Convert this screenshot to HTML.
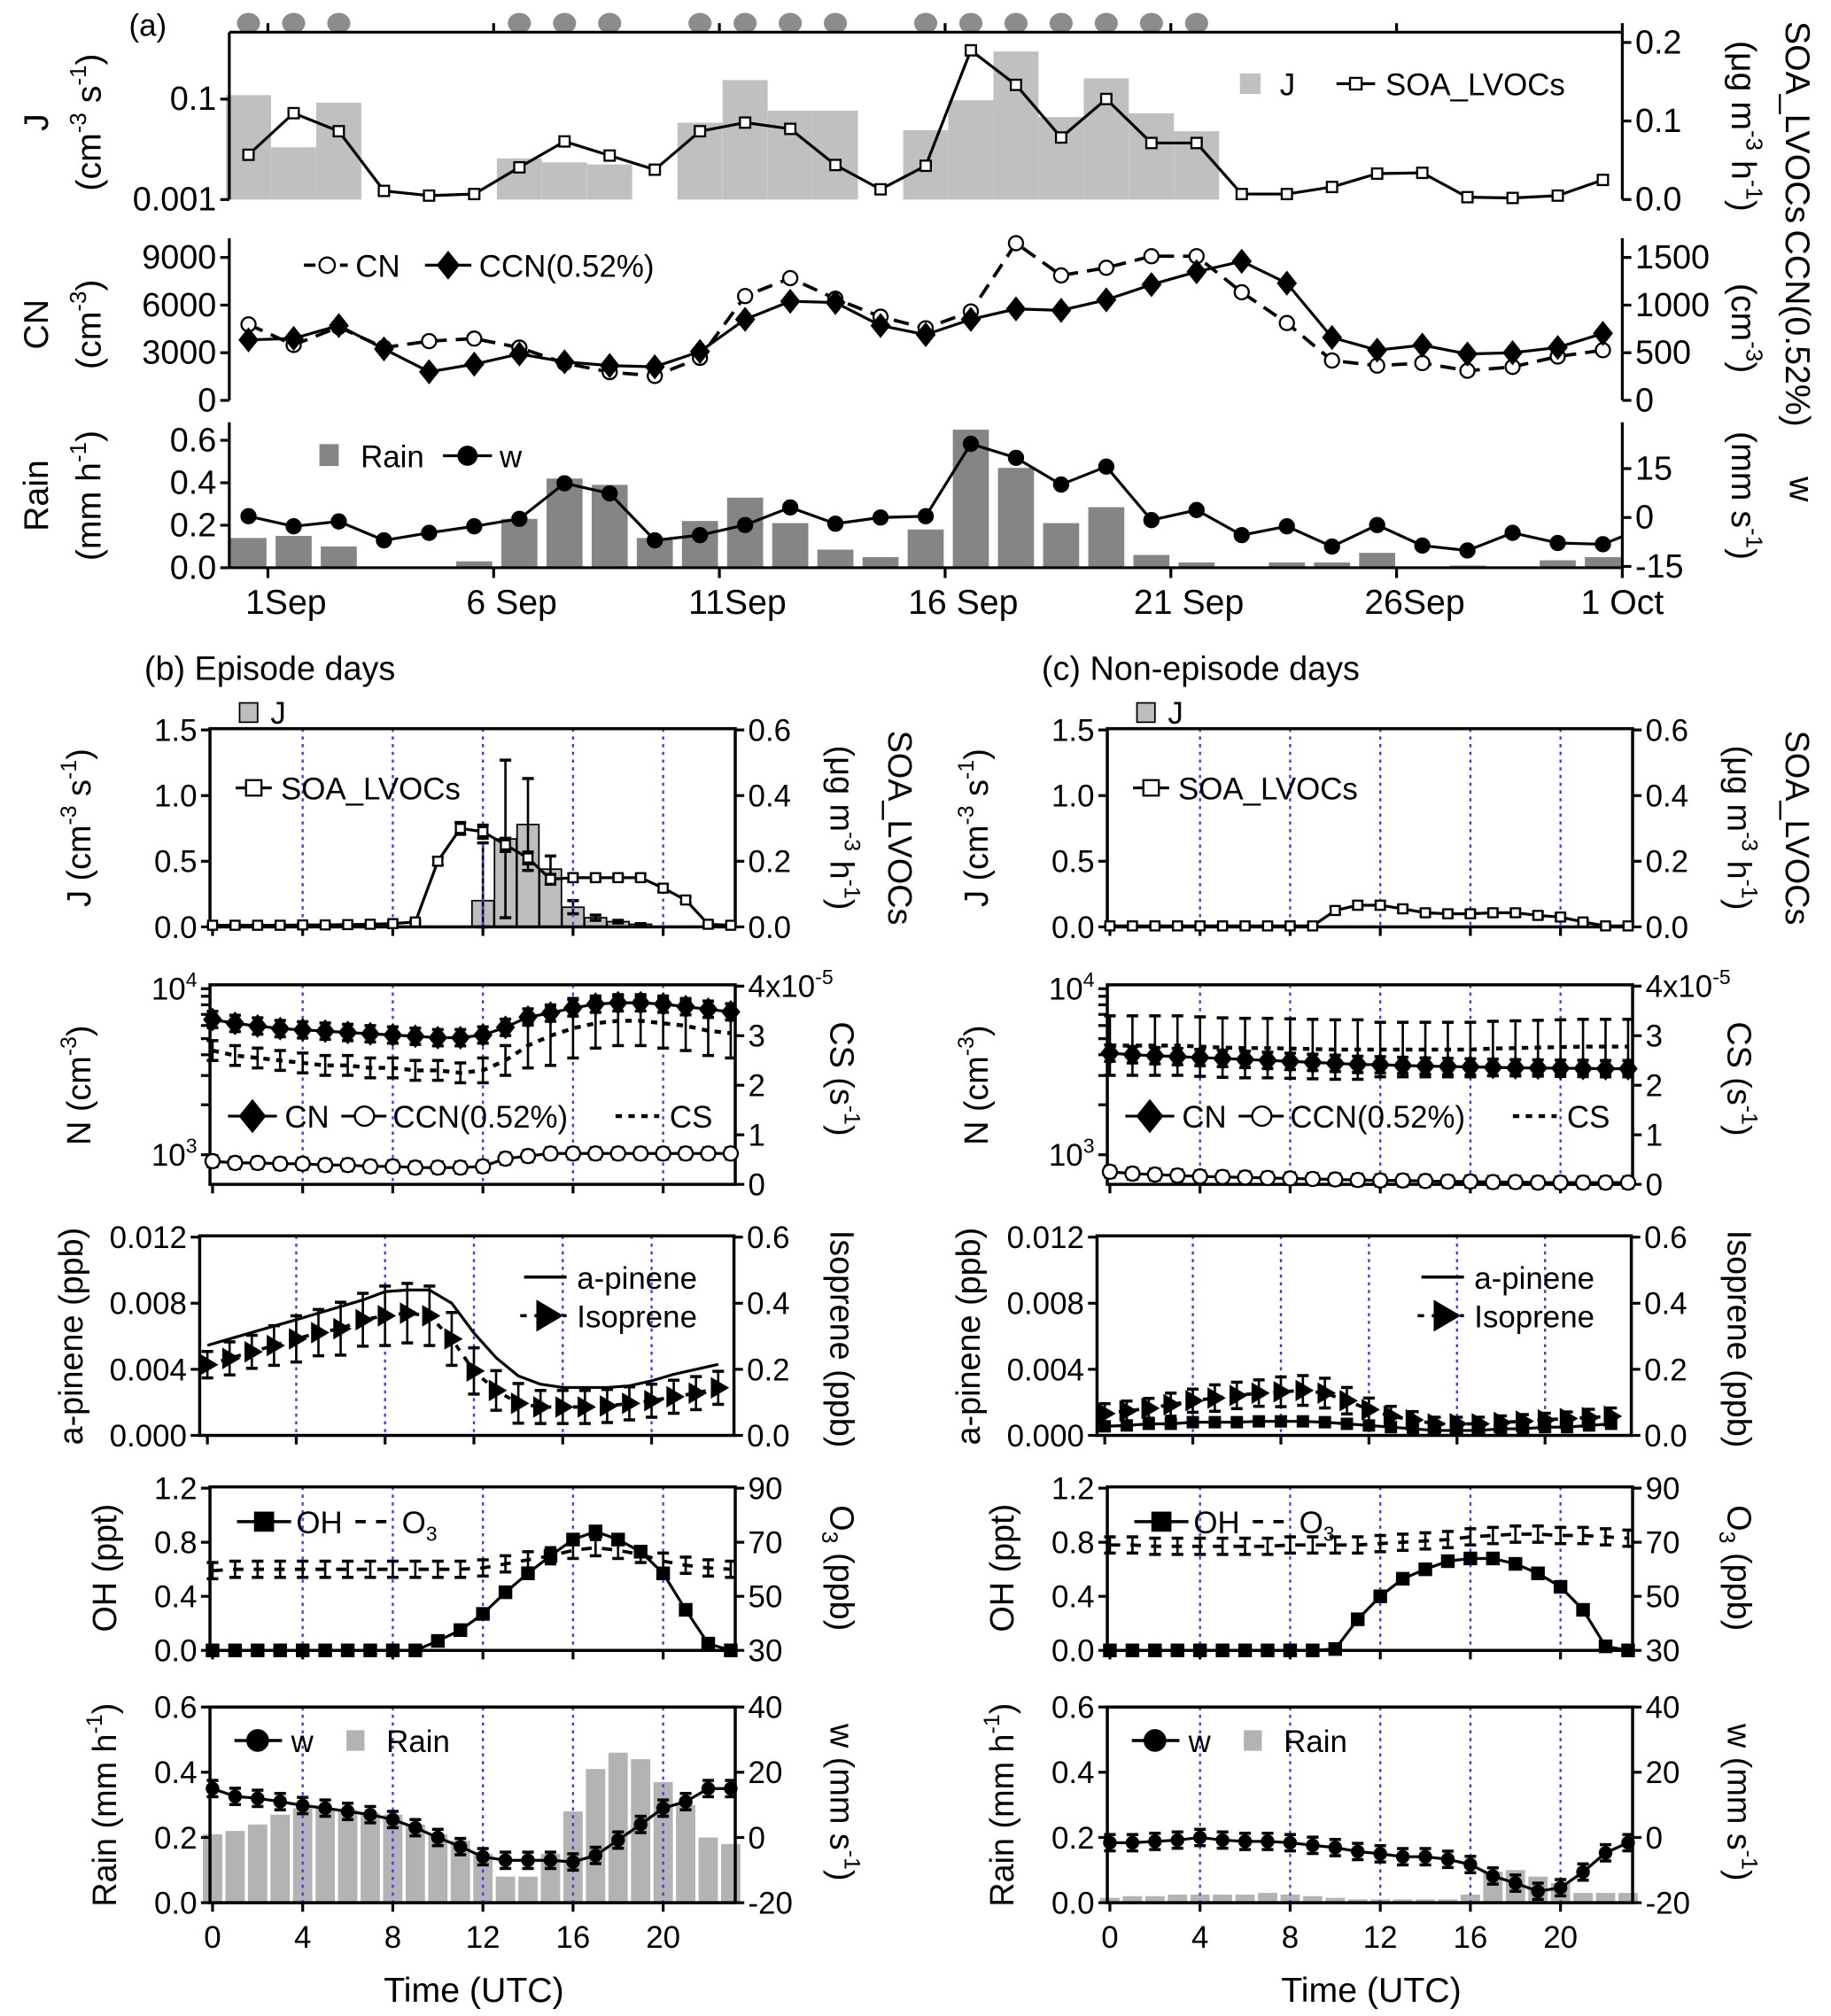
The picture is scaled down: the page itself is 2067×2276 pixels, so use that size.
<!DOCTYPE html>
<html><head><meta charset="utf-8">
<style>
html,body{margin:0;padding:0;background:#fff}
svg{display:block}
text{font-family:"Liberation Sans",Arial,sans-serif;fill:#000}
</style></head>
<body>
<svg id="fig" xmlns="http://www.w3.org/2000/svg" width="2067" height="2276" viewBox="0 0 1422 1566"></svg>
<script>
// ===== Panel (a) data (daily, 1 Sep .. 1 Oct) =====
const aJ   = [0.12,0.011,0.085,0,0,0,0.0066,0.0055,0.005,0,0.034,0.24,0.059,0.059,0,0.024,0.095,0.89,0.044,0.26,0.052,0.023,0,0,0,0,0,0,0,0,0];
const aSOA = [0.057,0.11,0.087,0.011,0.005,0.007,0.041,0.074,0.056,0.038,0.087,0.098,0.09,0.044,0.013,0.043,0.19,0.146,0.079,0.128,0.072,0.072,0.007,0.007,0.016,0.033,0.034,0.003,0.002,0.005,0.025];
const aCN  = [4785,3490,4620,3325,3730,3890,3325,2350,1780,1540,2680,6570,7700,6400,5270,4540,5600,9900,7870,8350,9080,9080,6810,4870,2510,2190,2350,1865,2110,2760,3160];
const aCCN = [635,650,785,540,300,380,487,405,365,352,513,850,1040,1027,785,690,850,960,945,1055,1215,1350,1460,1230,660,527,580,487,500,555,703];
const aRain= [0.14,0.15,0.10,0,0,0.03,0.23,0.42,0.39,0.14,0.22,0.33,0.21,0.085,0.05,0.18,0.65,0.47,0.21,0.285,0.06,0.025,0,0.025,0.025,0.07,0,0.01,0,0.035,0.05];
const aW   = [0.4,-2.7,-1.2,-7,-4.7,-2.7,-0.4,10.5,7.4,-7,-5.4,-2.3,3.1,-1.9,0,0.4,22.6,18.3,10.1,15.6,-0.8,2.3,-5.4,-2.7,-8.9,-2.3,-8.6,-10.1,-4.7,-7.8,-8.2];
const episodeDays = [0,1,2,6,7,8,10,11,12,13,15,16,17,18,19,20,21];
const aDateTicks  = [0,5,10,15,20,25,30];
const aDateLabels = ["1Sep","6 Sep","11Sep","16 Sep","21 Sep","26Sep","1 Oct"];
const aJTicks = [0.001,0.1];
const aJTickLabels = ["0.001","0.1"];
const aSOATicks = [0,0.1,0.2];
const aSOATickLabels = ["0.0","0.1","0.2"];
const aCNTicks = [0,3000,6000,9000];
const aCCNTicks = [0,500,1000,1500];
const aRainTicks = [0,0.2,0.4,0.6];
const aRainTickLabels = ["0.0","0.2","0.4","0.6"];
const aWTicks = [-15,0,15];

// ===== Panels (b) and (c) data (hourly) =====
const hours = [0,1,2,3,4,5,6,7,8,9,10,11,12,13,14,15,16,17,18,19,20,21,22,23];
const hourTicks = [0,4,8,12,16,20];
const bJ = [0,0,0,0,0,0,0,0,0,0,0,0,0.2,0.67,0.78,0.44,0.15,0.07,0.04,0.02,0,0,0,0];
const bJerr = [0,0,0,0,0,0,0,0,0,0,0,0,0.44,0.6,0.35,0.1,0.05,0.02,0.01,0.005,0,0,0,0];
const bSOA = [0.005,0.005,0.005,0.005,0.006,0.006,0.007,0.008,0.01,0.015,0.2,0.3,0.29,0.25,0.21,0.145,0.15,0.15,0.15,0.15,0.118,0.082,0.008,0.005];
const bSOAerr = [0.002,0.002,0.002,0.002,0.002,0.002,0.002,0.002,0.003,0.004,0.012,0.018,0.02,0.02,0.018,0.015,0.012,0.01,0.01,0.01,0.01,0.008,0.003,0.002];
const cJ = [0,0,0,0,0,0,0,0,0,0,0,0,0,0,0,0,0,0,0,0,0,0,0,0];
const cSOA = [0.003,0.003,0.003,0.003,0.003,0.003,0.003,0.003,0.003,0.003,0.05,0.066,0.066,0.055,0.043,0.04,0.04,0.043,0.043,0.035,0.03,0.015,0.003,0.003];
const cSOAerr = [0.002,0.002,0.002,0.002,0.002,0.002,0.002,0.002,0.002,0.002,0.01,0.012,0.012,0.01,0.01,0.01,0.01,0.01,0.01,0.01,0.01,0.006,0.002,0.002];

const bCN = [6520,6180,5960,5750,5650,5550,5450,5350,5260,5170,5070,5070,5260,5850,6750,7130,7660,8070,8220,8220,8070,7790,7520,7250];
const bCCN = [915,893,893,883,883,867,867,851,851,837,837,837,851,948,982,1018,1018,1018,1018,1018,1018,1018,1018,1018];
const bCS = [2.7,2.6,2.55,2.5,2.45,2.4,2.4,2.35,2.35,2.3,2.3,2.25,2.3,2.5,2.8,3.0,3.15,3.25,3.3,3.3,3.25,3.2,3.1,3.05];
const bCSerr = [0.2,0.2,0.2,0.2,0.2,0.2,0.2,0.2,0.2,0.2,0.2,0.2,0.25,0.3,0.45,0.6,0.6,0.5,0.5,0.5,0.5,0.5,0.5,0.5];
const cCN = [4090,4000,3950,3900,3850,3800,3750,3700,3650,3600,3550,3500,3480,3450,3420,3400,3380,3360,3340,3330,3320,3310,3300,3300];
const cCCN = [790,770,760,750,740,735,730,725,720,715,710,705,700,700,695,690,690,685,685,680,680,680,680,680];
const cCS = [2.8,2.8,2.8,2.8,2.78,2.76,2.75,2.75,2.74,2.73,2.72,2.72,2.72,2.72,2.72,2.72,2.72,2.74,2.75,2.76,2.77,2.78,2.78,2.78];
const cCSerr = [0.6,0.6,0.6,0.6,0.6,0.6,0.6,0.6,0.6,0.6,0.6,0.6,0.55,0.55,0.55,0.55,0.55,0.55,0.55,0.55,0.55,0.55,0.55,0.55];

const bApin = [0.00545,0.00584,0.00623,0.00662,0.0070,0.0074,0.0078,0.0082,0.0087,0.0088,0.0088,0.0080,0.0062,0.0047,0.0036,0.0031,0.0029,0.0029,0.0029,0.0030,0.0033,0.0037,0.0040,0.0043];
const bIso = [0.214,0.233,0.253,0.272,0.292,0.311,0.323,0.35,0.362,0.37,0.362,0.292,0.195,0.136,0.097,0.086,0.086,0.086,0.089,0.097,0.105,0.117,0.128,0.144];
const bIsoErr = [0.04,0.05,0.05,0.06,0.07,0.07,0.08,0.08,0.09,0.09,0.09,0.08,0.07,0.06,0.06,0.05,0.05,0.05,0.05,0.05,0.05,0.05,0.05,0.05];
const cApin = [0.00055,0.0006,0.0007,0.0007,0.0008,0.0008,0.0008,0.00085,0.00085,0.00085,0.0008,0.0007,0.0006,0.0005,0.0004,0.0003,0.0003,0.0003,0.0004,0.0004,0.0005,0.0005,0.0006,0.0007];
const cIso = [0.066,0.074,0.082,0.093,0.105,0.113,0.121,0.128,0.132,0.136,0.128,0.105,0.078,0.058,0.047,0.035,0.035,0.035,0.039,0.043,0.047,0.051,0.054,0.058];
const cIsoErr = [0.03,0.03,0.03,0.035,0.035,0.04,0.04,0.04,0.045,0.045,0.045,0.04,0.035,0.03,0.025,0.02,0.02,0.02,0.02,0.02,0.02,0.02,0.025,0.025];

const bOH = [0,0,0,0,0,0,0,0,0,0,0.07,0.15,0.27,0.43,0.57,0.7,0.82,0.88,0.82,0.73,0.57,0.3,0.05,0];
const bO3 = [59.5,60,60,60,60,60,60,60,60,60,60,60,60.5,62,63.5,65,67,68,67,65.5,63,61.5,60.5,60];
const cOH = [0,0,0,0,0,0,0,0,0,0,0.01,0.23,0.4,0.53,0.6,0.66,0.68,0.68,0.64,0.57,0.47,0.3,0.03,0];
const cO3 = [69,69,68.5,68.5,68.5,68.5,68.5,68.5,69,69,69,69,69.5,70,70.5,71,72,72.5,73,73,72.5,72.5,72,71.5];
const O3err = [3,3,3,3,3,3,3,3,3,3,3,3,3,3,3,3,3,3,3,3,3,3,3,3];

const bRain = [0.21,0.22,0.24,0.27,0.29,0.29,0.285,0.275,0.27,0.24,0.21,0.19,0.15,0.08,0.08,0.15,0.28,0.41,0.46,0.44,0.37,0.30,0.20,0.18];
const bW = [15,12.6,12,11,9.8,9,8,7,5.5,3,0,-2.8,-5.9,-7,-7,-7,-7.5,-5.5,-0.8,4,9,11,15,15];
const cRain = [0.015,0.02,0.02,0.025,0.025,0.025,0.025,0.03,0.025,0.02,0.015,0.01,0.01,0.01,0.01,0.01,0.025,0.095,0.1,0.08,0.06,0.03,0.03,0.03];
const cW = [-1.6,-1.6,-1.2,-0.8,0,-0.8,-1.2,-1.2,-1.6,-2.4,-3.1,-4.3,-5,-5.9,-5.9,-6.7,-8.3,-11.8,-14,-16.5,-15.4,-10.6,-4.7,-1.6];
const wErr = [2.5,2.5,2.5,2.5,2.5,2.5,2.5,2.5,2.5,2.5,2.5,2.5,2.5,2.5,2.5,2.5,2.5,2.5,2.5,2.5,2.5,2.5,2.5,2.5];

// ===== helpers =====
const NS='http://www.w3.org/2000/svg';
const svg=document.getElementById('fig');
function mk(tag,attrs,parent,name){
  const e=document.createElementNS(NS,tag);
  for(const k in attrs) e.setAttribute(k,attrs[k]);
  
  
  (parent||svg).appendChild(e);
  return e;
}
function grp(name,parent){return mk('g',{},parent,name);}
function txt(parent,x,y,str,o,name){
  o=o||{};
  const fs=o.size||24;
  const t=mk('text',{x:x,y:y,'font-size':fs,'text-anchor':o.anchor||'start'},parent,name);
  if(o.rot) t.setAttribute('transform','rotate('+o.rot+' '+x+' '+y+')');
  const toks=str.split(/(\^.*?\^|~.*?~)/);
  let cur=0;
  toks.forEach(tk=>{
    if(tk==='') return;
    let target=0,s=fs,content=tk;
    if(tk[0]==='^'){target=-0.42*fs;s=0.66*fs;content=tk.slice(1,-1);}
    else if(tk[0]==='~'){target=0.25*fs;s=0.66*fs;content=tk.slice(1,-1);}
    const sp=document.createElementNS(NS,'tspan');
    sp.setAttribute('dy',(target-cur).toFixed(2));
    sp.setAttribute('font-size',s);
    sp.textContent=content;
    t.appendChild(sp);
    cur=target;
  });
  return t;
}
function ln(g,x1,y1,x2,y2,name,w,extra){
  const a={x1:x1,y1:y1,x2:x2,y2:y2,stroke:'#000','stroke-width':w||2.2};
  if(extra) for(const k in extra) a[k]=extra[k];
  return mk('line',a,g,name);
}
function path(g,xs,ys,name,dash,w){
  let d='';
  for(let i=0;i<xs.length;i++) d+=(i?'L':'M')+xs[i].toFixed(2)+' '+ys[i].toFixed(2);
  const a={d:d,fill:'none',stroke:'#000','stroke-width':w||2.2,'stroke-linejoin':'round'};
  if(dash) a['stroke-dasharray']=dash;
  return mk('path',a,g,name);
}
function sym(g,type,x,y,s,name){
  const st={stroke:'#000','stroke-width':1.6};
  let e;
  if(type==='osq'||type==='fsq'){
    e=mk('rect',Object.assign({x:x-s/2,y:y-s/2,width:s,height:s,fill:type==='osq'?'#fff':'#000'},st),g,name);
  }else if(type==='oc'||type==='fc'){
    e=mk('circle',Object.assign({cx:x,cy:y,r:s/2,fill:type==='oc'?'#fff':'#000'},st),g,name);
  }else if(type==='dia'){
    const h=s/2;
    e=mk('polygon',Object.assign({points:x+','+(y-h)+' '+(x+h*0.8)+','+y+' '+x+','+(y+h)+' '+(x-h*0.8)+','+y,fill:'#000'},st),g,name);
  }else if(type==='tri'){
    const h=s/2;
    e=mk('polygon',Object.assign({points:(x-h*0.7)+','+(y-h)+' '+(x+h)+','+y+' '+(x-h*0.7)+','+(y+h),fill:'#000'},st),g,name);
  }
  return e;
}
function errbar(g,x,y1,y2,name){
  const gg=grp(name,g);
  ln(gg,x,y1,x,y2,'err-stem',1.8);
  ln(gg,x-4.5,y1,x+4.5,y1,'err-cap',2.4);
  ln(gg,x-4.5,y2,x+4.5,y2,'err-cap',2.4);
}
function lin(d0,d1,p0,p1){return v=>p0+(v-d0)*(p1-p0)/(d1-d0);}
function logs(d0,d1,p0,p1){return v=>p0+(Math.log10(v)-Math.log10(d0))*(p1-p0)/(Math.log10(d1)-Math.log10(d0));}
function yTicks(g,x,side,vals,labels,yf,name,fs){
  const gg=grp(name,g);
  vals.forEach((v,i)=>{
    const y=yf(v);
    ln(gg,x,y,x+side*7,y,'tick',2.2);
    if(labels[i]!==null) txt(gg,x+side*10,y+8.5,labels[i],{size:fs||24,anchor:side<0?'end':'start'},'tick-label');
  });
}

// ===== Panel (a) =====
const A=grp('panel-a');
const XL=178, XR=1260;
const aX=lin(0,30,208,1260);
const aPos=k=>aX(k-0.43);
txt(A,100,28,'(a)',{size:24},'panel-a-label');
// episode markers
const ep=grp('episode-day-markers',A);
episodeDays.forEach(k=>{
  const e=mk('ellipse',{cx:aPos(k),cy:18,rx:9,ry:8,fill:'#8c8c8c'},ep,'episode-marker');
});
// top axis
const topAx=grp('top-axis',A);
ln(topAx,XL,25,XR,25,'top-axis-line',2.2);
aDateTicks.forEach(d=>ln(topAx,aX(d),25,aX(d),18,'top-tick',2.2));

// J subplot
const aJg=grp('j-subplot',A);
const yJ=logs(0.001,1,155,38);
const ySa=lin(0,0.2,155,33);
aJ.forEach((v,k)=>{
  if(v<=0) return;
  const x=aPos(k);
  mk('rect',{x:x-17.5,y:yJ(v),width:35,height:155-yJ(v),fill:'#c0c0c0'},aJg,'j-bar');
});
ln(aJg,XL,25,XL,155,'j-left-axis',2.2);
ln(aJg,XR,25,XR,155,'soa-right-axis',2.2);
yTicks(aJg,XL,-1,aJTicks,aJTickLabels,yJ,'j-y-ticks',26);
yTicks(aJg,XR,1,aSOATicks,aSOATickLabels,ySa,'soa-y-ticks',26);
path(aJg,aSOA.map((v,k)=>aPos(k)),aSOA.map(v=>ySa(v)),'soa-line');
aSOA.forEach((v,k)=>sym(aJg,'osq',aPos(k),ySa(v),8,'soa-point'));
const lgA1=grp('j-legend',aJg);
mk('rect',{x:963,y:57,width:16,height:16,fill:'#c0c0c0'},lgA1,'legend-j-swatch');
txt(lgA1,994,74,'J',{size:24},'legend-j-label');
ln(lgA1,1038,65,1068,65,'legend-soa-line',2.2);
sym(lgA1,'osq',1053,65,9,'legend-soa-marker');
txt(lgA1,1076,74,'SOA_LVOCs',{size:24},'legend-soa-label');
txt(aJg,37,95,'J',{size:27,anchor:'middle',rot:-90},'j-y-title');
txt(aJg,78,95,'(cm^-3^ s^-1^)',{size:27,anchor:'middle',rot:-90},'j-y-units');
txt(aJg,1387,95,'SOA_LVOCs',{size:27,anchor:'middle',rot:90},'soa-y-title');
txt(aJg,1345,98,'(μg m^-3^ h^-1^)',{size:27,anchor:'middle',rot:90},'soa-y-units');

// CN subplot
const aCg=grp('cn-subplot',A);
const yCN=lin(0,9000,311,200);
const yCCN=lin(0,1500,311,200);
ln(aCg,XL,185,XL,311,'cn-left-axis',2.2);
ln(aCg,XR,185,XR,311,'ccn-right-axis',2.2);
yTicks(aCg,XL,-1,aCNTicks,aCNTicks.map(String),yCN,'cn-y-ticks',26);
yTicks(aCg,XR,1,aCCNTicks,aCCNTicks.map(String),yCCN,'ccn-y-ticks',26);
path(aCg,aCN.map((v,k)=>aPos(k)),aCN.map(v=>yCN(v)),'cn-line','12,7',2.6);
path(aCg,aCCN.map((v,k)=>aPos(k)),aCCN.map(v=>yCCN(v)),'ccn-line');
aCN.forEach((v,k)=>sym(aCg,'oc',aPos(k),yCN(v),11,'cn-point'));
aCCN.forEach((v,k)=>sym(aCg,'dia',aPos(k),yCCN(v),17,'ccn-point'));
const lgA2=grp('cn-legend',aCg);
ln(lgA2,236,206,270,206,'legend-cn-line',2.6,{'stroke-dasharray':'9,5'});
sym(lgA2,'oc',254,206,12,'legend-cn-marker');
txt(lgA2,276,215,'CN',{size:24},'legend-cn-label');
ln(lgA2,330,206,366,206,'legend-ccn-line',2.2);
sym(lgA2,'dia',348,206,20,'legend-ccn-marker');
txt(lgA2,372,215,'CCN(0.52%)',{size:24},'legend-ccn-label');
txt(aCg,37,252,'CN',{size:27,anchor:'middle',rot:-90},'cn-y-title');
txt(aCg,78,252,'(cm^-3^)',{size:27,anchor:'middle',rot:-90},'cn-y-units');
txt(aCg,1387,255,'CCN(0.52%)',{size:27,anchor:'middle',rot:90},'ccn-y-title');
txt(aCg,1345,255,'(cm^-3^)',{size:27,anchor:'middle',rot:90},'ccn-y-units');

// Rain subplot
const aRg=grp('rain-subplot',A);
const yRa=lin(0,0.6,441,342);
const yWa=lin(0,15,402,364);
aRain.forEach((v,k)=>{
  if(v<=0) return;
  mk('rect',{x:aPos(k)-14,y:yRa(v),width:28,height:441-yRa(v),fill:'#858585'},aRg,'rain-bar');
});
ln(aRg,XL,328,XL,441,'rain-left-axis',2.2);
ln(aRg,XR,328,XR,441,'w-right-axis',2.2);
ln(aRg,XL,441,XR,441,'date-axis-line',2.2);
yTicks(aRg,XL,-1,aRainTicks,aRainTickLabels,yRa,'rain-y-ticks',26);
yTicks(aRg,XR,1,aWTicks,aWTicks.map(String),yWa,'w-y-ticks',26);
const xaxA=grp('date-axis',aRg);
aDateTicks.forEach((d,i)=>{
  ln(xaxA,aX(d),441,aX(d),449,'date-tick',2.2);
  txt(xaxA,aX(d)+(i===6?0:14),477,aDateLabels[i],{size:27,anchor:'middle'},'date-label');
});
path(aRg,aW.map((v,k)=>aPos(k)),aW.map(v=>yWa(v)),'w-line');
path(aRg,[aPos(30),XR],[yWa(aW[30]),yWa(aW[30])-6],'w-line-tail');
aW.forEach((v,k)=>sym(aRg,'fc',aPos(k),yWa(v),11,'w-point'));
const lgA3=grp('rain-legend',aRg);
mk('rect',{x:248,y:345,width:15,height:17,fill:'#858585'},lgA3,'legend-rain-swatch');
txt(lgA3,280,363,'Rain',{size:24},'legend-rain-label');
ln(lgA3,344,354,382,354,'legend-w-line',2.2);
sym(lgA3,'fc',363,354,14,'legend-w-marker');
txt(lgA3,388,363,'w',{size:24},'legend-w-label');
txt(aRg,37,385,'Rain',{size:27,anchor:'middle',rot:-90},'rain-y-title');
txt(aRg,78,385,'(mm h^-1^)',{size:27,anchor:'middle',rot:-90},'rain-y-units');
txt(aRg,1390,380,'w',{size:27,anchor:'middle',rot:90},'w-y-title');
txt(aRg,1345,385,'(mm s^-1^)',{size:27,anchor:'middle',rot:90},'w-y-units');

// ===== Panels (b) & (c) =====
const rows=[{yt:566,yb:720},{yt:765,yb:920},{yt:960,yb:1115},{yt:1155,yb:1282},{yt:1326,yb:1478}];
function frame(g,P,R,last){
  const f=grp('frame',g);
  hourTicks.slice(1).forEach(h=>{
    const x=P.x0+h*P.pxh;
    ln(f,x,R.yt,x,R.yb,'hour-gridline',1.6,{stroke:'#3a3aff','stroke-dasharray':'2.5,3.5'});
  });
  mk('rect',{x:P.xl,y:R.yt,width:P.xr-P.xl,height:R.yb-R.yt,fill:'none',stroke:'#000','stroke-width':2.4},f,'plot-frame');
  hourTicks.forEach(h=>{
    const x=P.x0+h*P.pxh;
    ln(f,x,R.yb,x,R.yb+7,'hour-tick',2.2);
    if(last) txt(f,x,1513,String(h),{size:24,anchor:'middle'},'hour-label');
  });
}
function drawSide(key,off,d){
  const G=grp('panel-'+key);
  const base={xl:163+off,xr:571+off,x0:165+off,pxh:17.5};
  const p3={xl:155+off,xr:570+off,x0:161+off,pxh:off?17.1:17.25};
  const X=P=>h=>P.x0+h*P.pxh;
  txt(G,112+off,528,key==='b'?'(b) Episode days':'(c) Non-episode days',{size:26},'panel-'+key+'-title');
  const xl=base.xl, xr=base.xr;

  // row 1: J & SOA
  let R=rows[0], g=grp('j-soa-subplot',G), x=X(base);
  const yJb=lin(0,1.5,720,567), ySb=lin(0,0.6,720,567);
  d.J.forEach((v,h)=>{
    if(v<=0) return;
    mk('rect',{x:x(h)-8.5,y:yJb(v),width:17,height:720-yJb(v),fill:'#bdbdbd',stroke:'#000','stroke-width':1.2},g,'j-bar');
    if(d.Jerr[h]>0) errbar(g,x(h),yJb(v+d.Jerr[h]),yJb(Math.max(0,v-d.Jerr[h])),'j-errorbar');
  });
  frame(g,base,R,false);
  yTicks(g,xl,-1,[0,0.5,1.0,1.5],['0.0','0.5','1.0','1.5'],yJb,'j-y-ticks');
  yTicks(g,xr,1,[0,0.2,0.4,0.6],['0.0','0.2','0.4','0.6'],ySb,'soa-y-ticks');
  d.SOA.forEach((v,h)=>errbar(g,x(h),ySb(v+d.SOAerr[h]),ySb(Math.max(0,v-d.SOAerr[h])),'soa-errorbar'));
  path(g,hours.map(x),d.SOA.map(ySb),'soa-line');
  d.SOA.forEach((v,h)=>sym(g,'osq',x(h),ySb(v),7,'soa-point'));
  const l1=grp('j-soa-legend',g);
  mk('rect',{x:186+off,y:546,width:14,height:15,fill:'#bdbdbd',stroke:'#000','stroke-width':1.2},l1,'legend-j-swatch');
  txt(l1,210+off,562,'J',{size:24},'legend-j-label');
  ln(l1,183+off,612,211+off,612,'legend-soa-line',2.2);
  sym(l1,'osq',197+off,612,12,'legend-soa-marker');
  txt(l1,218+off,621,'SOA_LVOCs',{size:24},'legend-soa-label');
  txt(g,70+off,643,'J (cm^-3^ s^-1^)',{size:26,anchor:'middle',rot:-90},'j-y-title');
  txt(g,645+off,643,'(μg m^-3^ h^-1^)',{size:26,anchor:'middle',rot:90},'soa-y-units');
  txt(g,690+off,643,'SOA_LVOCs',{size:26,anchor:'middle',rot:90},'soa-y-title');

  // row 2: N & CS
  R=rows[1]; g=grp('n-cs-subplot',G);
  const yN=logs(1000,10000,897,768), yCS=lin(0,4,920,766);
  frame(g,base,R,false);
  yTicks(g,xl,-1,[1000,10000],['10^3^','10^4^'],yN,'n-y-ticks');
  yTicks(g,xl,-1,[2000,3000,4000,5000,6000,7000,8000,9000],[null,null,null,null,null,null,null,null],yN,'n-minor-ticks');
  yTicks(g,xr,1,[0,1,2,3,4],['0','1','2','3','4x10^-5^'],yCS,'cs-y-ticks');
  d.CS.forEach((v,h)=>errbar(g,x(h),yCS(v+d.CSerr[h]),yCS(v-d.CSerr[h]),'cs-errorbar'));
  path(g,hours.map(x),d.CS.map(yCS),'cs-line','5,5',3);
  d.CN.forEach((v,h)=>errbar(g,x(h),yN(v*1.12),yN(v/1.12),'cn-errorbar'));
  path(g,hours.map(x),d.CN.map(yN),'cn-line');
  d.CN.forEach((v,h)=>sym(g,'dia',x(h),yN(v),16,'cn-point'));
  d.CCN.forEach((v,h)=>errbar(g,x(h),yN(v*1.08),yN(v/1.08),'ccn-errorbar'));
  path(g,hours.map(x),d.CCN.map(yN),'ccn-line');
  d.CCN.forEach((v,h)=>sym(g,'oc',x(h),yN(v),11,'ccn-point'));
  const l2=grp('n-cs-legend',g);
  ln(l2,177+off,867,215+off,867,'legend-cn-line',2.2);
  sym(l2,'dia',196+off,867,24,'legend-cn-marker');
  txt(l2,221+off,876,'CN',{size:24},'legend-cn-label');
  ln(l2,265+off,867,300+off,867,'legend-ccn-line',2.2);
  sym(l2,'oc',283+off,867,15,'legend-ccn-marker');
  txt(l2,305+off,876,'CCN(0.52%)',{size:24},'legend-ccn-label');
  ln(l2,478+off,867,512+off,867,'legend-cs-line',3,{'stroke-dasharray':'5,5'});
  txt(l2,520+off,876,'CS',{size:24},'legend-cs-label');
  txt(g,70+off,843,'N (cm^-3^)',{size:26,anchor:'middle',rot:-90},'n-y-title');
  txt(g,645+off,838,'CS (s^-1^)',{size:26,anchor:'middle',rot:90},'cs-y-title');

  // row 3: a-pinene & isoprene
  R=rows[2]; g=grp('apinene-isoprene-subplot',G); const x3=X(p3);
  const yAp=lin(0,0.012,1115,961), yIs=lin(0,0.6,1115,961);
  frame(g,p3,R,false);
  yTicks(g,p3.xl,-1,[0,0.004,0.008,0.012],['0.000','0.004','0.008','0.012'],yAp,'apinene-y-ticks');
  yTicks(g,p3.xr,1,[0,0.2,0.4,0.6],['0.0','0.2','0.4','0.6'],yIs,'isoprene-y-ticks');
  d.Iso.forEach((v,h)=>errbar(g,x3(h),yIs(v+d.IsoErr[h]),yIs(Math.max(0,v-d.IsoErr[h])),'isoprene-errorbar'));
  path(g,hours.map(x3),d.Apin.map(yAp),'apinene-line');
  if(d.apinMarkers) d.Apin.forEach((v,h)=>sym(g,'fsq',x3(h),yAp(v),8,'apinene-point'));
  path(g,hours.map(x3),d.Iso.map(yIs),'isoprene-line','5,6',2.6);
  d.Iso.forEach((v,h)=>sym(g,'tri',x3(h),yIs(v),14,'isoprene-point'));
  const l3=grp('apinene-isoprene-legend',g);
  ln(l3,407+off,992,440+off,992,'legend-apinene-line',2.4);
  txt(l3,448+off,1001,'a-pinene',{size:24},'legend-apinene-label');
  ln(l3,404+off,1022,440+off,1022,'legend-isoprene-line',2.4,{'stroke-dasharray':'5,6'});
  sym(l3,'tri',425+off,1022,22,'legend-isoprene-marker');
  txt(l3,448+off,1031,'Isoprene',{size:24},'legend-isoprene-label');
  txt(g,64+off,1038,'a-pinene (ppb)',{size:26,anchor:'middle',rot:-90},'apinene-y-title');
  txt(g,645+off,1040,'Isoprene (ppb)',{size:26,anchor:'middle',rot:90},'isoprene-y-title');

  // row 4: OH & O3
  R=rows[3]; g=grp('oh-o3-subplot',G);
  const yOH=lin(0,1.2,1282,1156), yO3=lin(30,90,1282,1156);
  frame(g,base,R,false);
  yTicks(g,xl,-1,[0,0.4,0.8,1.2],['0.0','0.4','0.8','1.2'],yOH,'oh-y-ticks');
  yTicks(g,xr,1,[30,50,70,90],['30','50','70','90'],yO3,'o3-y-ticks');
  d.O3.forEach((v,h)=>errbar(g,x(h),yO3(v+O3err[h]),yO3(v-O3err[h]),'o3-errorbar'));
  path(g,hours.map(x),d.O3.map(yO3),'o3-line','8,8',2.6);
  path(g,hours.map(x),d.OH.map(yOH),'oh-line');
  d.OH.forEach((v,h)=>sym(g,'fsq',x(h),yOH(v),9,'oh-point'));
  const l4=grp('oh-o3-legend',g);
  ln(l4,184+off,1182,226+off,1182,'legend-oh-line',2.4);
  sym(l4,'fsq',205+off,1182,14,'legend-oh-marker');
  txt(l4,230+off,1191,'OH',{size:24},'legend-oh-label');
  ln(l4,276+off,1182,308+off,1182,'legend-o3-line',2.6,{'stroke-dasharray':'8,8'});
  txt(l4,312+off,1191,'O~3~',{size:24},'legend-o3-label');
  txt(g,90+off,1218,'OH (ppt)',{size:26,anchor:'middle',rot:-90},'oh-y-title');
  txt(g,645+off,1218,'O~3~ (ppb)',{size:26,anchor:'middle',rot:90},'o3-y-title');

  // row 5: Rain & w
  R=rows[4]; g=grp('rain-w-subplot',G);
  const yR=lin(0,0.6,1478,1326), yW=lin(-20,40,1478,1326);
  d.Rain.forEach((v,h)=>{
    if(v<=0) return;
    mk('rect',{x:x(h)-7.5,y:yR(v),width:15,height:1478-yR(v),fill:'#b3b3b3'},g,'rain-bar');
  });
  frame(g,base,R,true);
  yTicks(g,xl,-1,[0,0.2,0.4,0.6],['0.0','0.2','0.4','0.6'],yR,'rain-y-ticks');
  yTicks(g,xr,1,[-20,0,20,40],['-20','0','20','40'],yW,'w-y-ticks');
  d.W.forEach((v,h)=>errbar(g,x(h),yW(v+wErr[h]),yW(v-wErr[h]),'w-errorbar'));
  path(g,hours.map(x),d.W.map(yW),'w-line');
  d.W.forEach((v,h)=>sym(g,'fc',x(h),yW(v),9,'w-point'));
  const l5=grp('rain-w-legend',g);
  ln(l5,182+off,1352,219+off,1352,'legend-w-line',2.4);
  sym(l5,'fc',200+off,1352,16,'legend-w-marker');
  txt(l5,226+off,1361,'w',{size:24},'legend-w-label');
  mk('rect',{x:269+off,y:1344,width:14,height:16,fill:'#b3b3b3'},l5,'legend-rain-swatch');
  txt(l5,300+off,1361,'Rain',{size:24},'legend-rain-label');
  txt(g,90+off,1402,'Rain (mm h^-1^)',{size:26,anchor:'middle',rot:-90},'rain-y-title');
  txt(g,645+off,1400,'w (mm s^-1^)',{size:26,anchor:'middle',rot:90},'w-y-title');
  txt(G,368+off,1555,'Time (UTC)',{size:27,anchor:'middle'},'x-axis-title');
}
drawSide('b',0,{J:bJ,Jerr:bJerr,SOA:bSOA,SOAerr:bSOAerr,CN:bCN,CCN:bCCN,CS:bCS,CSerr:bCSerr,Apin:bApin,Iso:bIso,IsoErr:bIsoErr,OH:bOH,O3:bO3,Rain:bRain,W:bW,apinMarkers:false});
drawSide('c',697,{J:cJ,Jerr:cJ,SOA:cSOA,SOAerr:cSOAerr,CN:cCN,CCN:cCCN,CS:cCS,CSerr:cCSerr,Apin:cApin,Iso:cIso,IsoErr:cIsoErr,OH:cOH,O3:cO3,Rain:cRain,W:cW,apinMarkers:true});
</script>
</body></html>
